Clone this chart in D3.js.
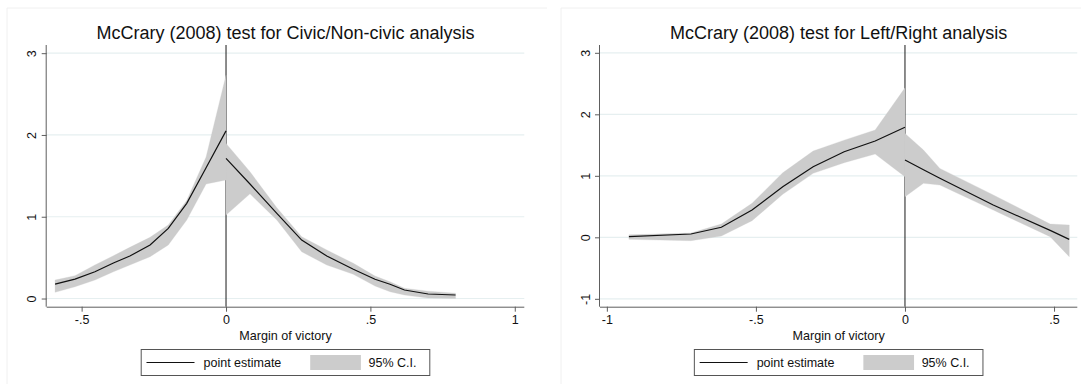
<!DOCTYPE html>
<html>
<head>
<meta charset="utf-8">
<script src="https://cdn.jsdelivr.net/npm/d3@7"></script>
<style>
  html, body { margin: 0; padding: 0; background: #ffffff; }
  svg { display: block; font-family: "Liberation Sans", Arial, Helvetica, sans-serif; }
</style>
</head>
<body>
<svg id="chart" width="1081" height="384"></svg>
<script>
// ---------- Data ----------
const titles = ["McCrary (2008) test for Civic/Non-civic analysis", "McCrary (2008) test for Left/Right analysis"];
const xAxisTitle = "Margin of victory";
const legendLabels = ["point estimate", "95% C.I."];

// Civic / Non-civic: left of cutoff
const civicLeftX   = [-0.592, -0.523, -0.454, -0.39, -0.333, -0.263, -0.2, -0.136, -0.069, 0];
const civicLeftEst = [0.177, 0.238, 0.328, 0.434, 0.52, 0.654, 0.858, 1.164, 1.6, 2.05];
const civicLeftLo  = [0.076, 0.144, 0.226, 0.327, 0.41, 0.511, 0.654, 0.96, 1.40, 1.45];
const civicLeftHi  = [0.226, 0.279, 0.41, 0.523, 0.626, 0.748, 0.9, 1.2, 1.73, 2.73];
// Civic / Non-civic: right of cutoff
const civicRightX   = [0, 0.083, 0.176, 0.262, 0.349, 0.441, 0.516, 0.568, 0.618, 0.70, 0.795];
const civicRightEst = [1.713, 1.40, 1.04, 0.715, 0.52, 0.357, 0.235, 0.174, 0.104, 0.055, 0.043];
const civicRightLo  = [1.02, 1.28, 0.96, 0.572, 0.41, 0.296, 0.153, 0.083, 0.043, 0.005, 0.0];
const civicRightHi  = [1.897, 1.55, 1.11, 0.756, 0.593, 0.43, 0.275, 0.205, 0.125, 0.09, 0.065];

// Left / Right: left of cutoff
const lrLeftX   = [-0.926, -0.718, -0.616, -0.513, -0.41, -0.308, -0.204, -0.1, 0];
const lrLeftEst = [0.01, 0.054, 0.163, 0.444, 0.823, 1.148, 1.392, 1.566, 1.789];
const lrLeftLo  = [-0.033, -0.055, 0.02, 0.27, 0.70, 1.04, 1.213, 1.354, 0.985];
const lrLeftHi  = [0.04, 0.07, 0.216, 0.553, 1.05, 1.403, 1.58, 1.745, 2.43];
// Left / Right: right of cutoff
const lrRightX   = [0, 0.062, 0.117, 0.296, 0.487, 0.551];
const lrRightEst = [1.257, 1.10, 0.96, 0.525, 0.113, -0.033];
const lrRightLo  = [0.66, 0.878, 0.85, 0.444, 0.01, -0.315];
const lrRightHi  = [1.69, 1.42, 1.12, 0.69, 0.216, 0.2];

// Axis ticks
const civicXTicks = [-0.5, 0, 0.5, 1];
const civicYTicks = [0, 1, 2, 3];
const lrXTicks = [-1, -0.5, 0, 0.5];
const lrYTicks = [-1, 0, 1, 2, 3];

// ---------- Layout ----------
const FONT = '"Liberation Sans", Arial, Helvetica, sans-serif';
const panels = [
  { title: titles[0], left: 46.7, right: 524.3, xDomain: [-0.621, 1.033], yDomain: [-0.1, 3.1],
    xTicks: civicXTicks, yTicks: civicYTicks, frameX: 7,
    segs: [[civicLeftX, civicLeftEst, civicLeftLo, civicLeftHi], [civicRightX, civicRightEst, civicRightLo, civicRightHi]] },
  { title: titles[1], left: 600, right: 1077.3, xDomain: [-1.023, 0.578], yDomain: [-1.128, 3.127],
    xTicks: lrXTicks, yTicks: lrYTicks, frameX: 561,
    segs: [[lrLeftX, lrLeftEst, lrLeftLo, lrLeftHi], [lrRightX, lrRightEst, lrRightLo, lrRightHi]] }
];
const plotTop = 45, plotBottom = 306.7;
const axisColor = "#5e5e5e";
const gridColor = "#e6eff0";
const bandColor = "#cccccc";

const fmt = d => d === 0 ? "0" : String(d).replace("0.", ".");

const svg = d3.select("#chart");

panels.forEach(p => {
  const g = svg.append("g");
  const x = d3.scaleLinear().domain(p.xDomain).range([p.left, p.right]);
  const y = d3.scaleLinear().domain(p.yDomain).range([plotBottom, plotTop]);
  const cx = (p.left + p.right) / 2;

  // faint panel frame
  g.append("line").attr("x1", p.frameX).attr("x2", p.frameX).attr("y1", 8).attr("y2", 384)
    .attr("stroke", "#f0f0f0");
  g.append("line").attr("x1", p.frameX).attr("x2", p.frameX + 540).attr("y1", 8).attr("y2", 8)
    .attr("stroke", "#f0f0f0");

  // gridlines
  g.selectAll(".grid").data(p.yTicks).enter().append("line")
    .attr("x1", p.left).attr("x2", p.right)
    .attr("y1", d => y(d)).attr("y2", d => y(d))
    .attr("stroke", gridColor).attr("stroke-width", 1.2);

  // vertical line at cutoff
  g.append("line").attr("x1", x(0)).attr("x2", x(0)).attr("y1", plotTop).attr("y2", plotBottom)
    .attr("stroke", "#1a1a1a").attr("stroke-width", 1);

  // bands
  const area = d3.area().x(d => x(d[0])).y0(d => y(d[1])).y1(d => y(d[2]));
  const line = d3.line().x(d => x(d[0])).y(d => y(d[1]));
  p.segs.forEach(s => {
    const pts = s[0].map((v, i) => [v, s[2][i], s[3][i]]);
    g.append("path").attr("d", area(pts)).attr("fill", bandColor).attr("stroke", bandColor).attr("stroke-width", 0.3);
  });
  p.segs.forEach(s => {
    const pts = s[0].map((v, i) => [v, s[1][i]]);
    g.append("path").attr("d", line(pts)).attr("fill", "none").attr("stroke", "#111").attr("stroke-width", 1.2);
  });

  // axes
  const xAxis = d3.axisBottom(x).tickValues(p.xTicks).tickFormat(fmt).tickSizeInner(5).tickSizeOuter(0).tickPadding(3);
  const xg = g.append("g").attr("transform", `translate(0,${plotBottom})`).call(xAxis)
    .attr("font-family", FONT).attr("font-size", 12.5);
  xg.select(".domain").attr("stroke", axisColor).attr("d", `M${p.left},0.5H${p.right}`);
  xg.selectAll(".tick line").attr("stroke", axisColor);
  xg.selectAll(".tick text").attr("fill", "#111");

  const yAxis = d3.axisLeft(y).tickValues(p.yTicks).tickFormat(fmt).tickSizeInner(5).tickSizeOuter(0);
  const yg = g.append("g").attr("transform", `translate(${p.left},0)`).call(yAxis)
    .attr("font-family", FONT).attr("font-size", 12.5);
  yg.select(".domain").attr("stroke", axisColor).attr("d", `M-0.5,${plotTop}V${plotBottom}`);
  yg.selectAll(".tick line").attr("stroke", axisColor);
  yg.selectAll(".tick text")
    .attr("fill", "#111")
    .attr("x", null).attr("dy", null)
    .attr("text-anchor", "middle")
    .attr("transform", "translate(-10.5,0) rotate(-90)");

  // title
  g.append("text").attr("x", cx).attr("y", 39).attr("text-anchor", "middle")
    .attr("font-size", 18).attr("fill", "#111").text(p.title);

  // x-axis title
  g.append("text").attr("x", cx).attr("y", 340).attr("text-anchor", "middle")
    .attr("font-size", 12.6).attr("fill", "#111").text(xAxisTitle);

  // legend
  const lg = g.append("g").attr("transform", `translate(${cx},0)`);
  lg.append("rect").attr("x", -144.3).attr("y", 349.5).attr("width", 288.6).attr("height", 26)
    .attr("fill", "#fff").attr("stroke", "#555").attr("stroke-width", 1);
  lg.append("line").attr("x1", -139).attr("x2", -91).attr("y1", 362.5).attr("y2", 362.5)
    .attr("stroke", "#111").attr("stroke-width", 1.2);
  lg.append("text").attr("x", -82).attr("y", 367).attr("font-size", 12.5).attr("fill", "#111").text(legendLabels[0]);
  lg.append("rect").attr("x", 24.7).attr("y", 355).attr("width", 50.7).attr("height", 15).attr("fill", bandColor);
  lg.append("text").attr("x", 83).attr("y", 367).attr("font-size", 12.5).attr("fill", "#111").text(legendLabels[1]);
});
</script>
</body>
</html>
